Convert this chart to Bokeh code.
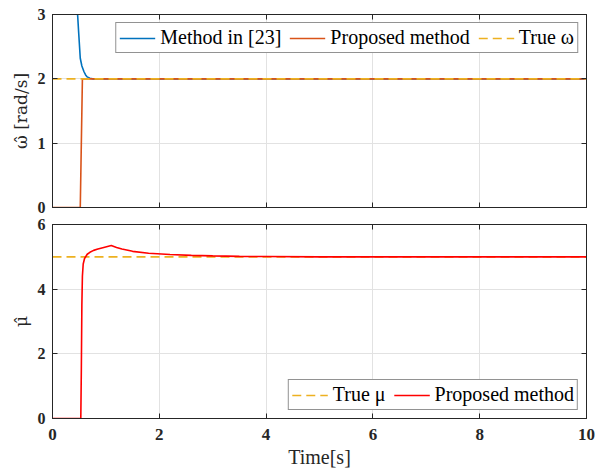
from bokeh.plotting import figure
from bokeh.layouts import column
from bokeh.models import LinearAxis, FixedTicker, Range1d, CustomJSTickFormatter
from bokeh.embed import file_html
from bokeh.resources import INLINE

# ---- data ----
x_ticks = [0, 2, 4, 6, 8, 10]
top_y_ticks = [0, 1, 2, 3]
bot_y_ticks = [0, 2, 4, 6]

# top panel: estimated omega
t_ref = [0.40, 0.43, 0.45, 0.47, 0.49, 0.52, 0.55, 0.59, 0.62, 0.65, 0.70, 0.75,
         1.0, 2.0, 3.0, 4.0, 5.0, 6.0, 7.0, 8.0, 9.0, 10.0]
w_ref = [5.4, 3.9, 3.4, 3.0, 2.72, 2.32, 2.20, 2.11, 2.06, 2.03, 2.01, 2.0,
         2.0, 2.0, 2.0, 2.0, 2.0, 2.0, 2.0, 2.0, 2.0, 2.0]
t_prop_w = [0.0, 0.52, 0.56, 1.0, 2.0, 4.0, 6.0, 8.0, 10.0]
w_prop = [0.0, 0.0, 2.0, 2.0, 2.0, 2.0, 2.0, 2.0, 2.0]
t_true = [0.0, 10.0]
w_true = [2.0, 2.0]

# bottom panel: estimated mu
t_prop_mu = [0.0, 0.53, 0.54, 0.55, 0.56, 0.575, 0.60, 0.65, 0.70, 0.77, 0.85, 0.96,
             1.10, 1.20, 1.30, 1.50, 1.80, 2.20, 2.60, 3.00, 3.50, 4.0, 5.0, 6.0,
             7.0, 8.0, 9.0, 10.0]
mu_prop = [0.0, 0.0, 1.5, 3.5, 4.4, 4.78, 4.95, 5.08, 5.14, 5.20, 5.24, 5.29,
           5.35, 5.29, 5.24, 5.17, 5.11, 5.07, 5.045, 5.03, 5.015, 5.01, 5.0, 5.0,
           5.0, 5.0, 5.0, 5.0]
mu_true = [5.0, 5.0]

BLUE = "#0072BD"
ORANGE = "#D95319"
YELLOW = "#EDB120"
RED = "#FF0000"
AX = "#262626"
FONT = "Liberation Serif"

EMPTY = CustomJSTickFormatter(code="return '';")


def tick_only_axis(ticks):
    return LinearAxis(ticker=FixedTicker(ticks=ticks), formatter=EMPTY,
                      major_label_text_font_size="1px",
                      major_label_standoff=0, major_tick_in=5, major_tick_out=0,
                      minor_tick_line_color=None, axis_line_color=AX,
                      major_tick_line_color=AX)


def style(p, yticks, show_x_labels):
    p.background_fill_color = "white"
    p.border_fill_color = "white"
    p.outline_line_color = AX
    p.outline_line_width = 1
    axes = [p.below[0], p.left[0]]
    for ax in axes:
        ax.axis_line_color = AX
        ax.major_tick_line_color = AX
        ax.major_tick_in = 5
        ax.major_tick_out = 0
        ax.minor_tick_line_color = None
        ax.major_label_text_font = FONT
        ax.major_label_text_font_style = "bold"
        ax.major_label_text_font_size = "17px"
        ax.major_label_text_color = AX
        ax.axis_label_text_font = FONT
        ax.axis_label_text_font_style = "normal"
        ax.axis_label_text_font_size = "20px"
        ax.axis_label_text_color = AX
    xa, ya = p.below[0], p.left[0]
    xa.ticker = FixedTicker(ticks=x_ticks)
    ya.ticker = FixedTicker(ticks=yticks)
    ya.major_label_text_font_size = "16px"
    ya.major_label_standoff = 7
    ya.axis_label_standoff = 4
    ya.axis_label_text_font = "DejaVu Serif"
    ya.axis_label_text_font_size = "17px"
    xa.major_label_standoff = 10
    xa.axis_label_standoff = 3
    if not show_x_labels:
        xa.formatter = EMPTY
        xa.major_label_text_font_size = "1px"
        xa.major_label_standoff = 0
    p.xgrid.ticker = FixedTicker(ticks=x_ticks)
    p.ygrid.ticker = FixedTicker(ticks=yticks)
    p.grid.grid_line_color = "#e2e2e2"
    p.grid.grid_line_width = 1
    p.add_layout(tick_only_axis(x_ticks), "above")
    p.add_layout(tick_only_axis(yticks), "right")


def style_legend(p, loc):
    lg = p.legend[0]
    lg.location = loc
    lg.orientation = "horizontal"
    lg.margin = 8
    lg.padding = 3
    lg.spacing = 8
    lg.glyph_width = 36
    lg.glyph_height = 20
    lg.label_standoff = 5
    lg.label_height = 20
    lg.label_text_font = FONT
    lg.label_text_font_size = "20px"
    lg.label_text_color = "black"
    lg.border_line_color = AX
    lg.border_line_width = 1
    lg.background_fill_color = "white"
    lg.background_fill_alpha = 1.0


p1 = figure(width=597, height=215, output_backend="svg", toolbar_location=None,
            x_range=Range1d(0, 10), y_range=Range1d(0, 3),
            min_border_left=52, min_border_right=11, min_border_top=14,
            min_border_bottom=8)
p1.line(t_ref, w_ref, line_color=BLUE, line_width=1.6, legend_label="Method in [23]")
p1.line(t_prop_w, w_prop, line_color=ORANGE, line_width=1.6, legend_label="Proposed method")
p1.line(t_true, w_true, line_color=YELLOW, line_width=1.6, line_dash="9 5",
        legend_label="True \u03c9")
style(p1, top_y_ticks, False)
p1.left[0].axis_label = "\u03c9\u0302 [rad/s]"
style_legend(p1, "top_right")

p2 = figure(width=597, height=255, output_backend="svg", toolbar_location=None,
            x_range=Range1d(0, 10), y_range=Range1d(0, 6),
            min_border_left=52, min_border_right=11, min_border_top=9,
            min_border_bottom=52)
p2.line(t_true, mu_true, line_color=YELLOW, line_width=1.6, line_dash="9 5",
        legend_label="True \u03bc")
p2.line(t_prop_mu, mu_prop, line_color=RED, line_width=1.6, legend_label="Proposed method")
style(p2, bot_y_ticks, True)
p2.left[0].axis_label = "\u03bc\u0302"
p2.below[0].axis_label = "Time[s]"
style_legend(p2, "bottom_right")

layout = column(p1, p2, spacing=0)
open("out.html", "w").write(file_html(layout, INLINE))
